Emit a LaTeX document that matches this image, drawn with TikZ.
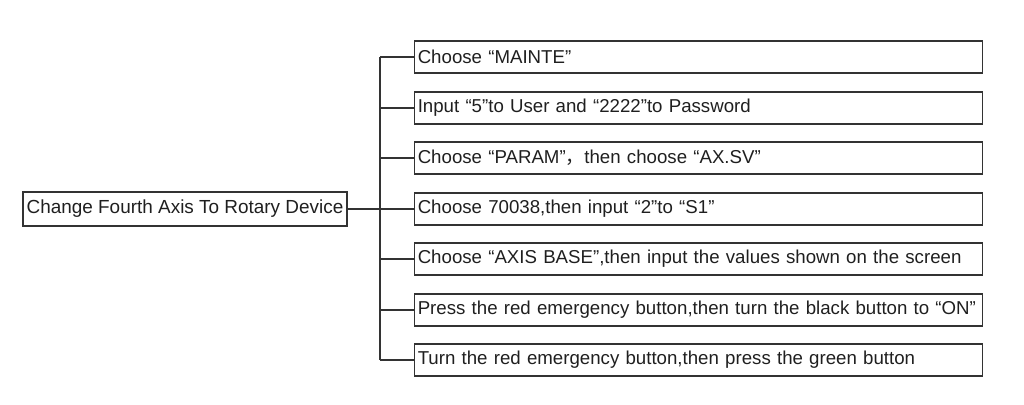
\documentclass[tikz,border=0pt]{standalone}
\usepackage{fontspec}
\setmainfont{Liberation Sans}
\newfontfamily\cjk{Noto Sans CJK SC}
\begin{document}
\begin{tikzpicture}[x=0.75pt,y=-0.75pt,
  box/.style={draw=black!80, line width=1.4pt, inner ysep=0pt, inner xsep=2.5pt,
    font=\fontsize{14}{16}\selectfont, text=black!88},
  rootbox/.style={box, minimum width=243.5pt, minimum height=25pt, font=\fontsize{14.2}{16}\selectfont},
  stepbox/.style={box, anchor=west, minimum height=24.5pt, text width=421pt, align=left},
  link/.style={draw=black!80, line width=1.4pt}]
\useasboundingbox (0,0) rectangle (1024,404);
\node[rootbox] (root) at (185,209) {Change Fourth Axis To Rotary Device};
\node[stepbox] (c1) at (413.5,57) {Choose “MAINTE”};
\node[stepbox] (c2) at (413.5,108) {Input “5”to User and “2222”to Password};
\node[stepbox] (c3) at (413.5,158) {Choose “PARAM”{\cjk ，}then choose “AX.SV”};
\node[stepbox] (c4) at (413.5,209) {Choose 70038,then input “2”to “S1”};
\node[stepbox] (c5) at (413.5,259) {Choose “AXIS BASE”,then input the values shown on the screen};
\node[stepbox] (c6) at (413.5,310) {Press the red emergency button,then turn the black button to “ON”};
\node[stepbox] (c7) at (413.5,360) {Turn the red emergency button,then press the green button};
\coordinate (tr) at (380,0);
\draw[link] (c1.west -| tr) -- (c7.west -| tr);
\draw[link] (root.east) -- (c4.west);
\foreach \i in {1,2,3,5,6,7} \draw[link] (c\i.west -| tr) -- (c\i.west);
\end{tikzpicture}
\end{document}
